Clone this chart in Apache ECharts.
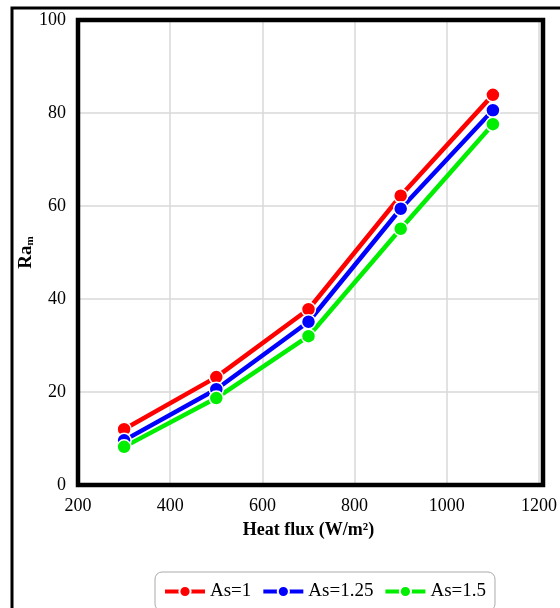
<!DOCTYPE html>
<html>
<head>
<meta charset="utf-8">
<script src="https://cdn.jsdelivr.net/npm/echarts@6/dist/echarts.min.js"></script>
<style>
  html, body { margin: 0; padding: 0; background: #fff; }
  #main { width: 560px; height: 608px; }
</style>
</head>
<body>
<div id="main"></div>
<script>
// heat flux (W/m2)
const heatFlux = [300, 500, 700, 900, 1100];
const seriesNames = ['As=1', 'As=1.25', 'As=1.5'];
const ras1 = [12.0, 23.2, 37.8, 62.2, 83.9];
const ras125 = [9.6, 20.6, 35.1, 59.4, 80.6];
const ras15 = [8.2, 18.7, 32.0, 55.1, 77.6];
const colors = ['#ff0000', '#0000ff', '#00ee00'];

const font = '"Liberation Serif", "Times New Roman", serif';
const chart = echarts.init(document.getElementById('main'), null, { renderer: 'canvas' });

function mk(name, vals, color) {
  return {
    name: name,
    type: 'line',
    data: heatFlux.map((x, i) => [x, vals[i]]),
    symbol: 'circle',
    symbolSize: 14,
    lineStyle: { color: color, width: 4.5 },
    itemStyle: { color: color, borderColor: '#fff', borderWidth: 1.5 },
    emphasis: { disabled: true },
    z: 3
  };
}

const option = {
  backgroundColor: '#fff',
  animation: false,
  color: colors,
  textStyle: { fontFamily: font },
  graphic: [{
    type: 'rect',
    shape: { x: 12, y: 8, width: 700, height: 700 },
    style: { fill: 'none', stroke: '#000', lineWidth: 3 },
    silent: true
  }, {
    // plot frame
    type: 'rect',
    shape: { x: 78, y: 20, width: 465, height: 465 },
    style: { fill: 'none', stroke: '#000', lineWidth: 4.5 },
    silent: true,
    z: 10
  }],
  grid: {
    left: 78, top: 20, right: 17, bottom: 123,
    show: false
  },
  xAxis: {
    type: 'value',
    min: 200, max: 1200, interval: 200,
    name: 'Heat flux (W/m²)',
    nameLocation: 'middle',
    nameGap: 36,
    nameMoveOverlap: false,
    nameTextStyle: { fontFamily: font, fontWeight: 'bold', fontSize: 18, color: '#000' },
    axisLine: { show: false },
    axisTick: { show: false },
    axisLabel: { fontFamily: font, fontSize: 18, color: '#000', margin: 12, formatter: v => String(v) },
    splitLine: { lineStyle: { color: '#d9d9d9', width: 1.5 } }
  },
  yAxis: {
    type: 'value',
    min: 0, max: 100, interval: 20,
    name: '{a|Ra}{b|m}',
    nameLocation: 'middle',
    nameGap: 42,
    nameMoveOverlap: false,
    nameTextStyle: {
      rich: {
        a: { fontFamily: font, fontWeight: 'bold', fontSize: 19, color: '#000' },
        b: { fontFamily: font, fontWeight: 'bold', fontSize: 11, color: '#000', padding: [9, 0, 0, 0] }
      }
    },
    axisLine: { show: false },
    axisTick: { show: false },
    axisLabel: { fontFamily: font, fontSize: 18, color: '#000', margin: 12 },
    splitLine: { lineStyle: { color: '#d9d9d9', width: 1.5 } }
  },
  legend: {
    left: 155, top: 572,
    data: seriesNames,
    itemWidth: 40, itemHeight: 14, itemGap: 10,
    padding: [10, 9, 10, 8],
    borderColor: '#aaa', borderWidth: 1, borderRadius: 7,
    lineStyle: { width: 4 },
    textStyle: { fontFamily: font, fontSize: 19, color: '#000' }
  },
  series: [
    mk(seriesNames[0], ras1, colors[0]),
    mk(seriesNames[1], ras125, colors[1]),
    mk(seriesNames[2], ras15, colors[2])
  ]
};
chart.setOption(option);
</script>
</body>
</html>
